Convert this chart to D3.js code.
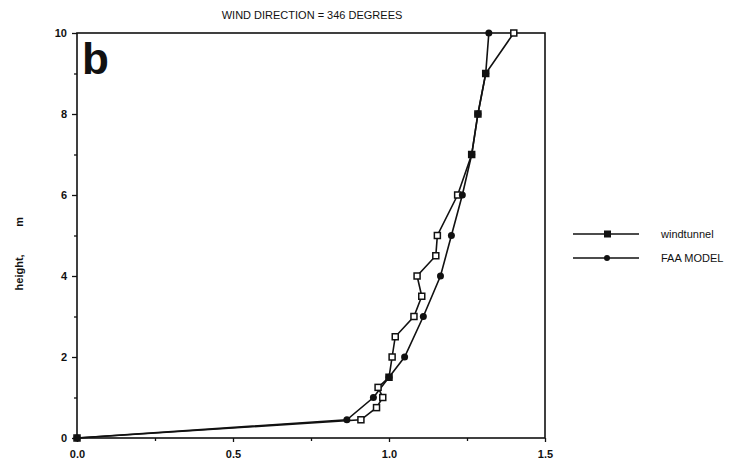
<!DOCTYPE html>
<html>
<head>
<meta charset="utf-8">
<script src="https://cdn.jsdelivr.net/npm/d3@7"></script>
<style>
  body { margin: 0; background: #fff; }
  text { font-family: "Liberation Sans", Arial, sans-serif; fill: #111; }
</style>
</head>
<body>
<svg id="chart" width="745" height="475"></svg>
<script>
// windtunnel profile (speed ratio vs height)
var tunnel_x = [0.0, 0.91, 0.96, 0.98, 0.965, 1.0, 1.01, 1.02, 1.08, 1.105, 1.09, 1.15, 1.155, 1.22, 1.265, 1.285, 1.31, 1.40];
var tunnel_h = [0.0, 0.45, 0.75, 1.0, 1.25, 1.5, 2.0, 2.5, 3.0, 3.5, 4.0, 4.5, 5.0, 6.0, 7.0, 8.0, 9.0, 10.0];

// FAA model profile
var model_x = [0.0, 0.865, 0.95, 1.0, 1.05, 1.11, 1.165, 1.20, 1.235, 1.265, 1.285, 1.31, 1.32];
var model_h = [0.0, 0.45, 1.0, 1.5, 2.0, 3.0, 4.0, 5.0, 6.0, 7.0, 8.0, 9.0, 10.0];

var x_ticks = [0, 0.5, 1.0, 1.5];
var x_minor = [0.25, 0.75, 1.25];
var y_ticks = [0, 2, 4, 6, 8, 10];
var y_minor = [1, 3, 5, 7, 9];

var svg = d3.select('#chart');

var xScale = d3.scaleLinear().domain([0, 1.5]).range([77, 545]);
var yScale = d3.scaleLinear().domain([0, 10]).range([438, 33]);

var tunnel = tunnel_x.map(function (v, i) { return [v, tunnel_h[i]]; });
var model = model_x.map(function (v, i) { return [v, model_h[i]]; });

// frame
svg.append('rect')
	.attr('x', xScale(0))
	.attr('y', yScale(10))
	.attr('width', xScale(1.5) - xScale(0))
	.attr('height', yScale(0) - yScale(10))
	.style('fill', 'none')
	.style('stroke', '#111')
	.style('stroke-width', 1.6);

// axes
var xAxis = d3.axisBottom(xScale)
	.tickValues(x_ticks)
	.tickFormat(d3.format('.1f'))
	.tickSize(4)
	.tickPadding(8);
svg.append('g')
	.attr('transform', 'translate(0,' + yScale(0) + ')')
	.call(xAxis);
svg.append('g')
	.attr('transform', 'translate(0,' + yScale(0) + ')')
	.call(d3.axisBottom(xScale).tickValues(x_minor).tickFormat('').tickSize(3));

var yAxis = d3.axisLeft(yScale)
	.tickValues(y_ticks)
	.tickSize(5)
	.tickPadding(5);
svg.append('g')
	.attr('transform', 'translate(' + xScale(0) + ',0)')
	.call(yAxis);
svg.append('g')
	.attr('transform', 'translate(' + xScale(0) + ',0)')
	.call(d3.axisLeft(yScale).tickValues(y_minor).tickFormat('').tickSize(3));

svg.selectAll('.domain').remove();
svg.selectAll('.tick line').style('stroke', '#111').style('stroke-width', 1.3);
svg.selectAll('.tick text')
	.style('font-size', '11px')
	.style('font-weight', 'bold')
	.style('fill', '#111');

// lines
var line = d3.line()
	.x(function (d) { return xScale(d[0]); })
	.y(function (d) { return yScale(d[1]); });

svg.append('path')
	.datum(model)
	.attr('d', line)
	.style('fill', 'none')
	.style('stroke', '#111')
	.style('stroke-width', 1.6);

svg.append('path')
	.datum(tunnel)
	.attr('d', line)
	.style('fill', 'none')
	.style('stroke', '#111')
	.style('stroke-width', 1.6);

// markers
svg.selectAll('.tsq')
	.data(tunnel)
	.enter()
	.append('rect')
	.attr('class', 'tsq')
	.attr('x', function (d) { return xScale(d[0]) - 3; })
	.attr('y', function (d) { return yScale(d[1]) - 3; })
	.attr('width', 6)
	.attr('height', 6)
	.style('fill', '#fff')
	.style('stroke', '#111')
	.style('stroke-width', 1.5);

svg.selectAll('.mdot')
	.data(model)
	.enter()
	.append('circle')
	.attr('class', 'mdot')
	.attr('cx', function (d) { return xScale(d[0]); })
	.attr('cy', function (d) { return yScale(d[1]); })
	.attr('r', 3.5)
	.style('fill', '#111');

// title and labels
svg.append('text')
	.attr('x', 312)
	.attr('y', 19)
	.attr('text-anchor', 'middle')
	.style('font-size', '11px')
	.text('WIND DIRECTION = 346 DEGREES');

svg.append('text')
	.attr('x', 82)
	.attr('y', 74)
	.style('font-size', '44px')
	.style('font-weight', 'bold')
	.text('b');

svg.append('text')
	.attr('transform', 'translate(23,' + yScale(4.55) + ') rotate(-90)')
	.attr('text-anchor', 'middle')
	.style('font-size', '11px')
	.style('font-weight', 'bold')
	.attr('xml:space', 'preserve')
	.text('height,         m');

// legend
var legend = [
	{ name: 'windtunnel', type: 'square' },
	{ name: 'FAA MODEL', type: 'circle' }
];
var lg = svg.selectAll('.legend')
	.data(legend)
	.enter()
	.append('g')
	.attr('class', 'legend')
	.attr('transform', function (d, i) { return 'translate(573,' + (234 + i * 24) + ')'; });

lg.append('line')
	.attr('x1', 0).attr('x2', 66)
	.attr('y1', 0).attr('y2', 0)
	.style('stroke', '#111')
	.style('stroke-width', 1.6);

lg.each(function (d) {
	var g = d3.select(this);
	if (d.type == 'square') {
		g.append('rect')
			.attr('x', 31).attr('y', -3.5)
			.attr('width', 7).attr('height', 7)
			.style('fill', '#111');
	} else {
		g.append('circle')
			.attr('cx', 34).attr('cy', 0)
			.attr('r', 3)
			.style('fill', '#111');
	}
});

lg.append('text')
	.attr('x', 88)
	.attr('y', 4)
	.style('font-size', '11px')
	.text(function (d) { return d.name; });
</script>
</body>
</html>
